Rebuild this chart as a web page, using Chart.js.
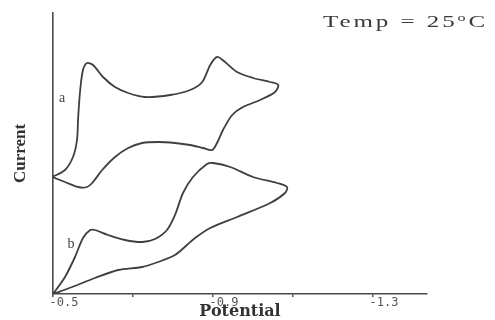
<!DOCTYPE html>
<html>
<head>
<meta charset="utf-8">
<script src="https://cdn.jsdelivr.net/npm/chart.js@4.4.1/dist/chart.umd.min.js"></script>
<style>
  html, body { margin: 0; padding: 0; background: #fff; }
  #wrap { position: relative; width: 495px; height: 320px; }
  #temp {
    position: absolute; left: 323px; top: 12px;
    font-family: "Liberation Serif", serif; font-size: 17px; color: #3a3a3a;
    letter-spacing: 2px; white-space: nowrap;
    transform: scaleX(1.47); transform-origin: left top;
  }
  #temp sup { font-size: 11px; vertical-align: 6px; line-height: 0; }
</style>
</head>
<body>
<div id="wrap">
  <canvas id="cv" width="495" height="320"></canvas>
  <div id="temp">Temp = 25<sup>o</sup>C</div>
</div>
<script>
// --- DATA (potential in V, current in arbitrary units) ---
const potentialA = [-0.498, -0.53, -0.563, -0.585, -0.598, -0.623, -0.655, -0.688, -0.723, -0.763, -0.805,
  -0.843, -0.875, -0.898, -0.91, -0.925, -0.948, -0.975, -1.018, -1.055, -1.063,
  -1.043, -1.0, -0.96, -0.93, -0.91, -0.893, -0.873, -0.843, -0.793, -0.73, -0.688,
  -0.655, -0.625, -0.6, -0.585, -0.575, -0.568, -0.563, -0.56, -0.55, -0.53, -0.498];
const currentA = [119, 114, 109, 109, 113, 126, 139, 148, 153, 154, 153,
  151, 148, 146, 153, 166, 181, 189, 196, 204, 211,
  214, 218, 224, 234, 239, 231, 214, 206, 201, 199, 203,
  209, 219, 231, 233, 226, 206, 179, 156, 139, 126, 119];

const potentialB = [-0.5, -0.53, -0.555, -0.575, -0.593, -0.605, -0.638, -0.68, -0.723, -0.755, -0.785,
  -0.805, -0.825, -0.85, -0.885, -0.9, -0.943, -1.0, -1.06, -1.085,
  -1.08, -1.043, -0.96, -0.893, -0.855, -0.835, -0.805, -0.763, -0.723, -0.663, -0.605, -0.548, -0.5];
const currentB = [2, 19, 39, 58, 66, 66, 61, 56, 54, 57, 66,
  81, 103, 119, 132, 133, 129, 119, 113, 109,
  103, 93, 79, 68, 58, 51, 41, 34, 29, 26, 18, 9, 2];

const tickValues = [-0.5, -0.7, -0.9, -1.1, -1.3];
const tickLabels = ['-0.5', '', '-0.9', '', '-1.3'];

const curveNames = ['a', 'b'];
const namePotential = [-0.5225, -0.545];
const nameCurrent = [198, 52];

function toPoints(xs, ys) {
  return xs.map((x, i) => ({ x: x, y: ys[i] }));
}

// small "a" / "b" marks next to each curve
const curveLabels = {
  id: 'curveLabels',
  afterDatasetsDraw(chart) {
    const { ctx, scales } = chart;
    ctx.save();
    ctx.fillStyle = '#444';
    ctx.font = '14px "Liberation Serif"';
    ctx.textAlign = 'center';
    ctx.textBaseline = 'middle';
    curveNames.forEach((t, i) => {
      const px = scales.x.getPixelForValue(namePotential[i]);
      const py = scales.y.getPixelForValue(nameCurrent[i]);
      ctx.fillText(t, px, py);
    });
    ctx.restore();
  }
};

const lineStyle = { showLine: true, pointRadius: 0, borderColor: '#3f3f3f', borderWidth: 1.8, tension: 0.3, fill: false };

new Chart(document.getElementById('cv'), {
  type: 'scatter',
  data: {
    datasets: [
      Object.assign({ label: 'a', data: toPoints(potentialA, currentA) }, lineStyle),
      Object.assign({ label: 'b', data: toPoints(potentialB, currentB) }, lineStyle)
    ]
  },
  options: {
    responsive: false,
    devicePixelRatio: 1,
    animation: false,
    layout: { padding: { top: 13, right: 68, left: 0, bottom: 0 } },
    plugins: { legend: { display: false }, tooltip: { enabled: false } },
    scales: {
      x: {
        type: 'linear',
        min: -1.435,
        max: -0.5,
        reverse: true,
        afterBuildTicks: axis => { axis.ticks = tickValues.map(v => ({ value: v })); },
        ticks: {
          autoSkip: false, maxRotation: 0, padding: 0, labelOffset: 11,
          color: '#555',
          font: { family: 'DejaVu Sans Mono', size: 12, lineHeight: 1 },
          callback: (v, i) => tickLabels[i]
        },
        grid: { display: true, drawOnChartArea: false, drawTicks: true, tickLength: 3, color: '#555', lineWidth: 1.5 },
        border: { display: true, color: '#4a4a4a', width: 1.6 },
        title: {
          display: true, text: 'Potential', color: '#333',
          font: { family: 'DejaVu Serif', weight: 'bold', size: 16, lineHeight: 1 },
          padding: { top: -5, bottom: 0 }
        }
      },
      y: {
        type: 'linear',
        min: 2,
        max: 283,
        ticks: { display: false },
        grid: { display: false, drawTicks: false },
        border: { display: true, color: '#4a4a4a', width: 1.6 },
        title: {
          display: true, text: 'Current', color: '#333',
          font: { family: 'Liberation Serif', weight: 'bold', size: 17, lineHeight: 1 },
          padding: { top: 12, bottom: 24 }
        }
      }
    }
  },
  plugins: [curveLabels]
});
</script>
</body>
</html>
